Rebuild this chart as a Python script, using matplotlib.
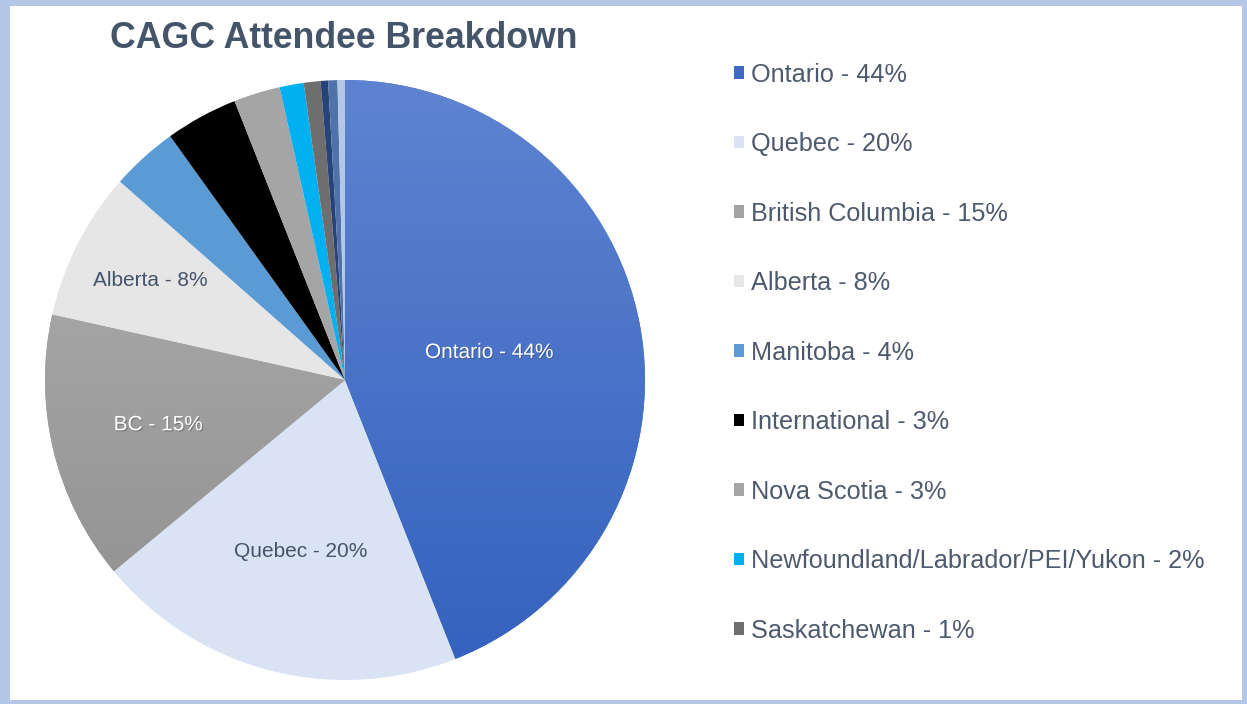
import matplotlib
matplotlib.use('Agg')
import matplotlib.pyplot as plt
import numpy as np
from matplotlib.patches import Patch, Rectangle
from matplotlib.colors import LinearSegmentedColormap
import matplotlib.patheffects as pe

plt.rcParams['font.family'] = ['Liberation Sans', 'DejaVu Sans']

# data (clockwise from 12 o'clock)
regions = ['Ontario', 'Quebec', 'British Columbia', 'Alberta', 'Manitoba',
           'International', 'Nova Scotia', 'Newfoundland/Labrador/PEI/Yukon',
           'Saskatchewan', 'Other A', 'Other B', 'Other C']
shares = [44, 20, 14.5, 8, 3.6, 3.9, 2.5, 1.3, 0.9, 0.4, 0.5, 0.4]
legend_pct = [44, 20, 15, 8, 4, 3, 3, 2, 1]
inner_labels = ['Ontario - 44%', 'Quebec - 20%', 'BC - 15%', 'Alberta - 8%']

colors = ['#4470C8', '#DAE3F3', '#A3A3A3', '#E7E6E6', '#5B9BD5', '#000000',
          '#A5A5A5', '#00B0F0', '#6E6E6E', '#264478', '#4F72A8', '#B4C7E7']
label_colors = ['white', '#44546A', 'white', '#44546A']
label_radius = [0.49, 0.59, 0.64, 0.73]
# vertical gradients (top colour, bottom colour) for a few wedges
gradients = {0: ('#5E84D1', '#3461BE'), 2: ('#B3B3B3', '#8E8E8E')}

fig = plt.figure(figsize=(12.47, 7.04), dpi=100)

# light blue frame
fig.patches.append(Rectangle((0, 0), 1, 1, transform=fig.transFigure,
                             facecolor='#B4C7E7', edgecolor='none', zorder=-2))
fig.patches.append(Rectangle((10/1247, 4/704), 1232/1247, 694/704,
                             transform=fig.transFigure, facecolor='white',
                             edgecolor='none', zorder=-1))

ax = fig.add_axes([45/1247, 24/704, 600/1247, 600/704])
wedges, _ = ax.pie(shares, colors=colors, startangle=90, counterclock=False,
                   radius=1, wedgeprops=dict(linewidth=0))

grad = np.linspace(1, 0, 256).reshape(-1, 1)
for idx, (c_top, c_bot) in gradients.items():
    cmap = LinearSegmentedColormap.from_list(f'g{idx}', [c_bot, c_top])
    im = ax.imshow(grad, cmap=cmap, extent=(-1, 1, -1, 1), aspect='auto',
                   origin='upper', zorder=wedges[idx].get_zorder() + 0.1)
    im.set_clip_path(wedges[idx])

ax.set_xlim(-1, 1)
ax.set_ylim(-1, 1)
ax.set_aspect('equal')
ax.axis('off')

for w, txt, c, r in zip(wedges, inner_labels, label_colors, label_radius):
    ang = np.deg2rad((w.theta1 + w.theta2) / 2)
    t = ax.text(r * np.cos(ang), r * np.sin(ang), txt, color=c, fontsize=15,
                ha='center', va='center', zorder=5)
    if c == 'white':
        t.set_path_effects([pe.withSimplePatchShadow(offset=(0.8, -0.8),
                                                     shadow_rgbFace='#333333',
                                                     alpha=0.35)])

fig.text(110/1247, 1 - 38/704, 'CAGC Attendee Breakdown', fontsize=25.7,
         fontweight='bold', color='#44546A', ha='left', va='center')

handles = [Patch(facecolor=colors[i], edgecolor='none')
           for i in range(len(legend_pct))]
handles[0] = Patch(facecolor='#3F6AC4', edgecolor='none')
labels = [f'{regions[i]} - {legend_pct[i]}%' for i in range(len(legend_pct))]
leg = fig.legend(handles, labels, loc='upper left',
                 bbox_to_anchor=(721/1247, 1 - 50/704), frameon=False,
                 fontsize=18.2, handlelength=0.4, handleheight=0.4,
                 handletextpad=0.3, labelspacing=1.8, borderpad=0)
for t in leg.get_texts():
    t.set_color('#4D5A6E')

fig.savefig('out.png', dpi=100)
